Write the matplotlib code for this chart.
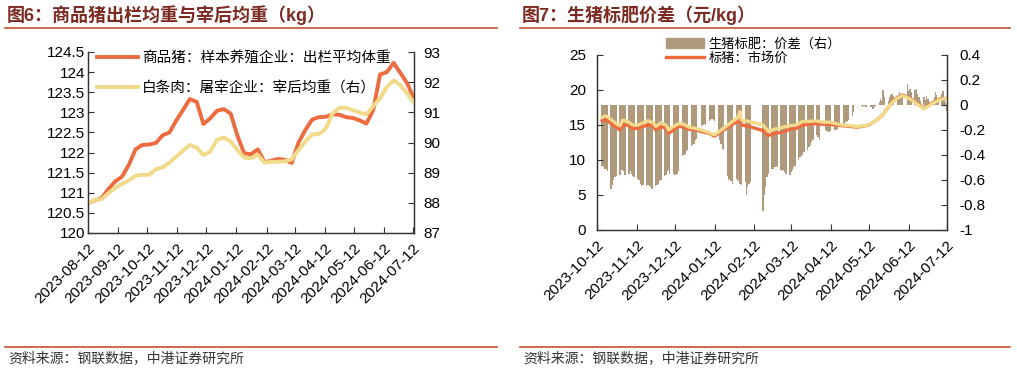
import matplotlib.pyplot as plt
from matplotlib.lines import Line2D
from matplotlib.patches import Patch
import pandas as pd

plt.rcParams['font.family'] = ['Liberation Sans', 'Noto Sans CJK SC', 'DejaVu Sans']

# ---- fig 6 data (weekly) ----
weight_start = '2023-08-12'
pig_weight = [120.74, 120.81, 120.87, 121.09, 121.28, 121.40, 121.69, 122.08, 122.19, 122.20,
              122.24, 122.43, 122.50, 122.80, 123.06, 123.33, 123.26, 122.71, 122.85, 123.04,
              123.08, 122.97, 122.42, 121.98, 121.96, 122.08, 121.76, 121.80, 121.84, 121.82,
              121.74, 122.25, 122.56, 122.82, 122.88, 122.89, 122.95, 122.94, 122.88, 122.86,
              122.80, 122.72, 123.06, 123.94, 124.00, 124.23, 123.98, 123.72, 123.34]
carcass_weight = [87.99, 88.10, 88.12, 88.32, 88.49, 88.63, 88.74, 88.90, 88.93, 88.93,
                  89.11, 89.18, 89.33, 89.53, 89.73, 89.92, 89.83, 89.59, 89.70, 90.08,
                  90.17, 90.03, 89.75, 89.50, 89.48, 89.59, 89.33, 89.36, 89.36, 89.38,
                  89.44, 89.75, 90.03, 90.27, 90.28, 90.45, 90.96, 91.15, 91.15, 91.07,
                  90.99, 90.93, 91.21, 91.46, 91.84, 92.06, 91.90, 91.62, 91.32]
left_ticks = ['2023-08-12', '2023-09-12', '2023-10-12', '2023-11-12', '2023-12-12', '2024-01-12',
              '2024-02-12', '2024-03-12', '2024-04-12', '2024-05-12', '2024-06-12', '2024-07-12']

# ---- fig 7 data ----
# spread (right axis), one row per week Mon..Fri, None = holiday
spread_start = '2023-10-16'
spread_by_week = [
    [-0.49, -0.50, -0.51, -0.51, -0.53],
    [-0.67, -0.64, -0.60, -0.58, -0.57],
    [-0.56, -0.52, -0.52, -0.53, -0.56],
    [-0.55, -0.53, -0.55, -0.57, -0.58],
    [-0.59, -0.60, -0.63, -0.65, -0.64],
    [-0.65, -0.64, -0.65, -0.66, -0.67],
    [-0.65, -0.64, -0.63, -0.61, -0.60],
    [-0.57, -0.56, -0.53, -0.52, -0.55],
    [-0.55, -0.56, -0.55, -0.55, -0.53],
    [-0.41, -0.40, -0.39, -0.37, -0.36],
    [-0.33, -0.32, -0.31, -0.28, -0.27],
    [None, -0.17, -0.16, -0.15, -0.16],
    [-0.13, -0.12, -0.11, -0.12, -0.13],
    [-0.23, -0.28, -0.31, -0.35, -0.36],
    [-0.57, -0.60, -0.59, -0.61, -0.63],
    [-0.59, -0.61, -0.60, -0.63, -0.64],
    [-0.62, -0.72, -0.66, -0.63, -0.62],
    [None, None, None, None, None],
    [-0.85, -0.72, -0.66, -0.58, -0.55],
    [-0.51, -0.51, -0.50, -0.50, -0.49],
    [-0.52, -0.53, -0.52, -0.54, -0.55],
    [-0.56, -0.54, -0.52, -0.50, -0.49],
    [-0.44, -0.42, -0.41, -0.40, -0.38],
    [-0.36, -0.34, -0.32, -0.30, -0.28],
    [-0.24, -0.26, -0.28, None, None],
    [-0.20, -0.21, -0.22, -0.22, -0.21],
    [-0.20, -0.20, -0.19, -0.18, -0.18],
    [-0.16, -0.15, -0.14, -0.13, -0.12],
    [-0.09, -0.06, None, None, None],
    [-0.01, -0.02, -0.01, -0.02, -0.02],
    [-0.02, -0.02, -0.03, -0.02, -0.01],
    [0.02, 0.05, 0.03, 0.12, 0.06],
    [0.03, 0.06, 0.08, 0.09, 0.07],
    [0.05, 0.07, 0.10, 0.08, 0.06],
    [None, 0.17, 0.11, 0.13, 0.10],
    [0.12, 0.13, 0.09, 0.06, 0.03],
    [0.06, 0.04, 0.07, 0.05, 0.02],
    [0.03, 0.06, 0.10, 0.08, 0.05],
    [0.09, 0.11, 0.06, 0.02, -0.05],
]
price_dates = ['2023-10-16', '2023-10-19', '2023-10-23', '2023-10-27', '2023-10-30', '2023-11-01',
               '2023-11-05', '2023-11-09', '2023-11-13', '2023-11-17', '2023-11-21', '2023-11-25',
               '2023-11-27', '2023-12-01', '2023-12-05', '2023-12-07', '2023-12-11', '2023-12-15',
               '2023-12-19', '2023-12-23', '2023-12-28', '2024-01-03', '2024-01-08', '2024-01-12',
               '2024-01-16', '2024-01-21', '2024-01-26', '2024-01-30', '2024-02-01', '2024-02-02',
               '2024-02-08', '2024-02-19', '2024-02-23', '2024-02-28', '2024-03-06', '2024-03-11',
               '2024-03-16', '2024-03-21', '2024-03-26', '2024-03-31', '2024-04-06', '2024-04-11',
               '2024-04-16', '2024-04-21', '2024-04-27', '2024-05-02', '2024-05-07', '2024-05-12',
               '2024-05-18', '2024-05-23', '2024-05-28', '2024-06-02', '2024-06-07', '2024-06-11',
               '2024-06-15', '2024-06-20', '2024-06-24', '2024-07-01', '2024-07-06', '2024-07-11']
lean_price = [15.6, 15.8, 15.2, 14.7, 14.3, 15.0, 15.0, 14.5, 14.5, 14.8,
              15.0, 14.8, 14.3, 14.8, 14.5, 13.8, 14.3, 14.8, 14.7, 14.4,
              14.3, 14.0, 13.8, 13.4, 13.9, 14.5, 15.1, 15.5, 16.1, 15.0,
              14.8, 14.2, 13.5, 13.8, 14.0, 14.4, 14.5, 15.0, 15.1, 15.2,
              15.1, 15.1, 15.0, 14.9, 14.8, 14.7, 14.8, 15.0, 15.7, 16.5,
              17.8, 18.8, 19.3, 19.0, 18.6, 17.9, 17.4, 18.2, 18.7, 18.8]
fat_price = [16.1, 16.3, 15.8, 15.2, 14.9, 15.7, 15.5, 15.0, 15.0, 15.3,
             15.6, 15.3, 14.8, 15.3, 15.0, 14.3, 14.8, 15.2, 15.1, 14.7,
             14.5, 14.2, 13.9, 13.6, 14.1, 14.8, 15.5, 16.0, 16.9, 15.7,
             15.5, 15.0, 14.1, 14.4, 14.7, 14.9, 15.0, 15.5, 15.5, 15.6,
             15.4, 15.4, 15.2, 15.0, 14.9, 14.8, 14.85, 15.0, 15.7, 16.5,
             17.8, 18.7, 19.2, 18.9, 18.5, 17.8, 17.3, 18.1, 18.6, 18.8]
right_ticks = ['2023-10-12', '2023-11-12', '2023-12-12', '2024-01-12', '2024-02-12',
               '2024-03-12', '2024-04-12', '2024-05-12', '2024-06-12', '2024-07-12']

ORANGE = '#EC6B3F'
YELLOW = '#F1DA8A'
BAR = '#AF9B7B'
TITLE = '#7C2B22'
RULE = '#C4512D'
W, H = 1017, 369


def fx(px):
    return px / W


def fy(py):
    return 1 - py / H


def style(ax):
    ax.spines['top'].set_visible(False)
    for s in ['left', 'right', 'bottom']:
        ax.spines[s].set_color('#333333')
        ax.spines[s].set_linewidth(0.9)
    ax.tick_params(direction='in', length=4, width=0.8, color='#333333', labelsize=11)


fig = plt.figure(figsize=(W / 100, H / 100), dpi=100)

# titles, rules and sources
for x0, x1, title in [(5, 497, '图6：商品猪出栏均重与宰后均重（kg）'),
                      (520, 1010, '图7：生猪标肥价差（元/kg）')]:
    fig.text(fx(x0 + 2), fy(15), title, fontsize=13, fontweight='bold', color=TITLE, va='center')
    fig.add_artist(Line2D([fx(x0), fx(x1)], [fy(28), fy(28)], color=RULE, lw=1.2))
    fig.add_artist(Line2D([fx(x0), fx(x1)], [fy(347), fy(347)], color=RULE, lw=1.2))
    fig.text(fx(x0 + 3), fy(358), '资料来源：钢联数据，中港证券研究所', fontsize=10,
             color='#333333', va='center')

# ---- left chart ----
wdates = pd.date_range(weight_start, periods=len(pig_weight), freq='7D')
ax1 = fig.add_axes([fx(88), fy(233), fx(326), 181 / H])
ax1.plot(wdates, pig_weight, color=ORANGE, lw=2.8)
ax1.set_ylim(120, 124.5)
ax1.set_yticks([120 + 0.5 * i for i in range(10)])
ax1.set_yticklabels([f'{120 + 0.5 * i:g}' for i in range(10)])
ax1.set_xlim(wdates[0], wdates[-1])
ax1.set_xticks(pd.to_datetime(left_ticks))
ax1.set_xticklabels(left_ticks, rotation=45, ha='right', va='top', rotation_mode='anchor')
style(ax1)
ax1.tick_params(axis='y', pad=2)
ax1.tick_params(axis='x', pad=6)

ax1b = ax1.twinx()
ax1b.plot(wdates, carcass_weight, color=YELLOW, lw=2.8)
ax1b.set_ylim(87, 93)
ax1b.set_yticks(range(87, 94))
style(ax1b)
ax1b.tick_params(axis='y', pad=7)

fig.legend([Line2D([], [], color=ORANGE, lw=2.8), Line2D([], [], color=YELLOW, lw=2.8)],
           ['商品猪：样本养殖企业：出栏平均体重', '白条肉：屠宰企业：宰后均重（右）'],
           loc='upper left', bbox_to_anchor=(fx(97), fy(51)), frameon=False, fontsize=10.5,
           handlelength=2.8, handletextpad=0.3, labelspacing=1.1, borderpad=0, borderaxespad=0)

# ---- right chart ----
week_starts = pd.date_range(spread_start, periods=len(spread_by_week), freq='7D')
spread_dates, spread_vals = [], []
for ws, row in zip(week_starts, spread_by_week):
    for i, v in enumerate(row):
        if v is not None:
            spread_dates.append(ws + pd.Timedelta(days=i))
            spread_vals.append(v)

ax2 = fig.add_axes([fx(597), fy(230), fx(350), 175 / H])
ax2b = ax2.twinx()
ax2b.bar(spread_dates, spread_vals, width=1.05, color=BAR, linewidth=0)
ax2b.set_ylim(-1, 0.4)
rt = [-1, -0.8, -0.6, -0.4, -0.2, 0, 0.2, 0.4]
ax2b.set_yticks(rt)
ax2b.set_yticklabels([f'{v:g}' for v in rt])
style(ax2b)
ax2b.tick_params(axis='y', pad=9)

ax2.set_zorder(ax2b.get_zorder() + 1)
ax2.patch.set_visible(False)
pdates = pd.to_datetime(price_dates)
ax2.plot(pdates, lean_price, color=ORANGE, lw=2.4)
ax2.plot(pdates, fat_price, color=YELLOW, lw=2.4)
ax2.set_ylim(0, 25)
ax2.set_yticks(range(0, 26, 5))
ax2.set_xlim(pd.Timestamp('2023-10-12'), pd.Timestamp('2024-07-12'))
ax2.set_xticks(pd.to_datetime(right_ticks))
ax2.set_xticklabels(right_ticks, rotation=45, ha='right', va='top', rotation_mode='anchor')
style(ax2)
ax2.tick_params(axis='y', pad=8)
ax2.tick_params(axis='x', pad=6)

fig.legend([Patch(color=BAR), Line2D([], [], color=ORANGE, lw=2.4)],
           ['生猪标肥：价差（右）', '标猪：市场价'],
           loc='upper left', bbox_to_anchor=(fx(666), fy(38)), frameon=False, fontsize=9.5,
           handlelength=2.9, handletextpad=0.3, labelspacing=0.15, borderpad=0, borderaxespad=0)

fig.savefig('out.png', dpi=100)
